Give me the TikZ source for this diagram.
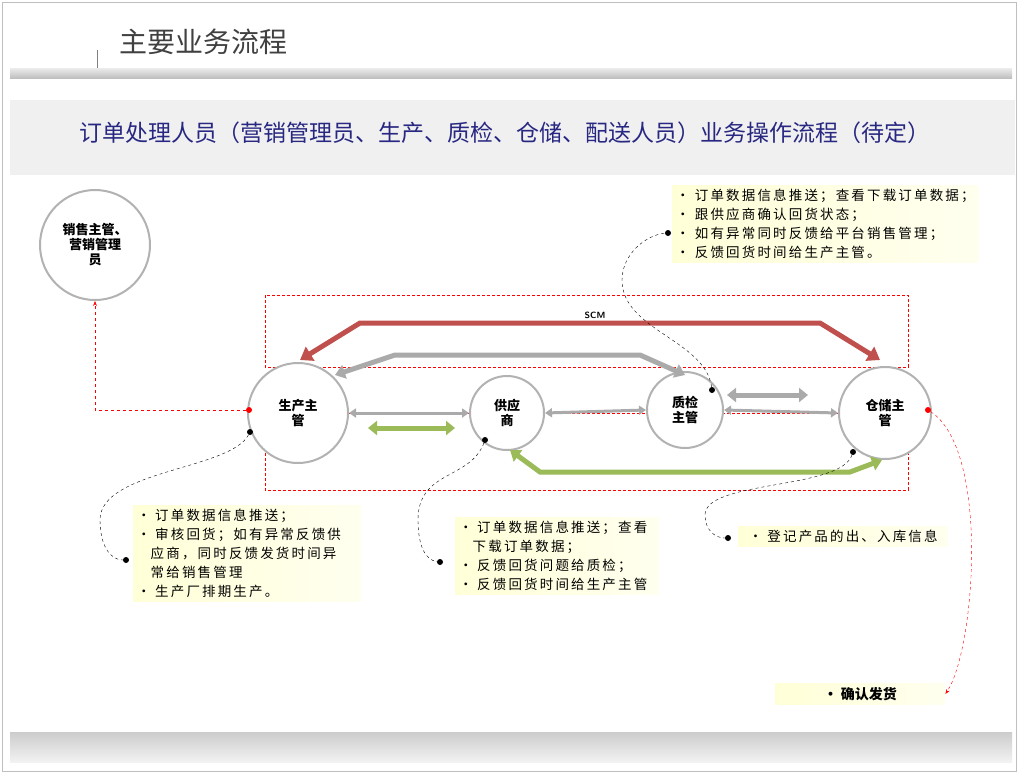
\documentclass[tikz,border=0pt]{standalone}
\usepackage{fontspec}
\newfontfamily\cjk{Noto Sans CJK SC}
\newfontfamily\cjkn[LetterSpace=16]{Noto Sans CJK SC}
\usetikzlibrary{arrows.meta}
\definecolor{rd}{RGB}{192,80,77}
\definecolor{gr}{RGB}{170,170,170}
\definecolor{gn}{RGB}{155,187,89}
\definecolor{ttl}{RGB}{40,40,130}
\definecolor{yl}{RGB}{255,255,215}
\tikzset{
 circ/.style={circle,draw=gray!60,line width=2pt,fill=white,align=center,font=\cjk\fontsize{13}{15}\selectfont\bfseries,inner sep=0pt},
 rbox/.style={draw=red,dashed,line width=0.8pt,dash pattern=on 3pt off 2pt},
 note/.style={left color=yl,right color=yl!40,anchor=north west,align=left,font=\cjkn\fontsize{13.5}{19}\selectfont,inner sep=4pt},
 dot/.style={circle,fill=black,inner sep=0pt,minimum size=6pt},
 rdot/.style={circle,fill=red,inner sep=0pt,minimum size=6pt},
 thn/.style={line width=3pt,gr,{Triangle[length=7pt,width=9pt]}-{Triangle[length=7pt,width=9pt]}},
 lk/.style={black,dashed,thin},
}
\begin{document}
\begin{tikzpicture}[x=1pt,y=-1pt]
\useasboundingbox (0,0) rectangle (1019,774);
\fill[white] (0,0) rectangle (1019,774);
\draw[gray!50] (2,2) rectangle (1016,771);
\fill[top color=gray!15,bottom color=gray!50] (10,68) rectangle (1012,78);
\fill[top color=gray!40,bottom color=gray!10] (10,732) rectangle (1012,762);
\draw[gray] (97,50) -- (97,68);
\node[font=\cjk\fontsize{28}{30}\selectfont,text=black!75,anchor=west] (h) at (116,42) {主要业务流程};
\fill[gray!12] (10,100) rectangle (1015,175);
\node[font=\cjk\fontsize{23}{26}\selectfont,text=ttl] (t) at (505,133) {订单处理人员（营销管理员、生产、质检、仓储、配送人员）业务操作流程（待定）};
\draw[rbox] (265,295) rectangle (908,367);
\draw[rbox] (265,413) rectangle (908,490);
\node[circ,minimum size=110pt] (xs) at (95,245) {销售主管、\\营销管理\\员};
\node[circ,minimum size=100pt] (sc) at (298,413) {生产主\\管};
\node[circ,minimum size=74pt] (gy) at (507,413) {供应\\商};
\node[circ,minimum size=76pt] (zj) at (685,410) {质检\\主管};
\node[circ,minimum size=92pt] (cc) at (885,413) {仓储主\\管};
% SCM
\draw[rd,line width=5pt,{Triangle[length=12pt,width=16pt]}-{Triangle[length=12pt,width=16pt]}] (300,360) -- (360,323) -- (820,323) -- (880,360);
\node[font=\sffamily\bfseries\small] (scm) at (595,315) {SCM};
\draw[gr,line width=5pt,{Triangle[length=10pt,width=14pt]}-{Triangle[length=10pt,width=14pt]}] (335,375) -- (395,355) -- (640,355) -- (685,375);
\draw[thn] (sc.east) -- (gy.west);
\draw[thn] (gy.east) -- (zj.west);
\draw[thn] (zj.east) -- (cc.west);
\draw[gr,line width=5pt,{Triangle[length=9pt,width=14pt]}-{Triangle[length=9pt,width=14pt]}] (727,395) -- (808,395);
\draw[gn,line width=5pt,{Triangle[length=9pt,width=14pt]}-{Triangle[length=9pt,width=14pt]}] (368,428) -- (455,428);
\draw[gn,line width=5pt,{Triangle[length=10pt,width=14pt]}-{Triangle[length=10pt,width=14pt]}] (510,450) -- (540,472) -- (850,472) -- (882,460);
% red links
\node[rdot] (r1) at (249,410) {};
\node[rdot] (r2) at (928,410) {};
\draw[red,dashed,-{Stealth}] (r1) -- (95,410) -- (xs.south);
% notes
\node[note] (n1) at (672,185) {• 订单数据信息推送；查看下载订单数据；\\• 跟供应商确认回货状态；\\• 如有异常同时反馈给平台销售管理；\\• 反馈回货时间给生产主管。};
\node[note,text width=220pt] (n2) at (133,505) {• 订单数据信息推送；\\• 审核回货；如有异常反馈供\\\ \ \ 应商，同时反馈发货时间异\\\ \ \ 常给销售管理\\• 生产厂排期生产。};
\node[note,text width=196pt] (n3) at (455,517) {• 订单数据信息推送；查看\\\ \ \ 下载订单数据；\\• 反馈回货问题给质检；\\• 反馈回货时间给生产主管};
\node[note,minimum width=210pt] (n4) at (738,526) {• 登记产品的出、入库信息};
\node[note,font=\cjk\fontsize{14}{18}\selectfont\bfseries,minimum width=170pt] (n5) at (775,683) {• 确认发货};
\draw[red,dashed,-{Stealth}] (r2) .. controls (990,450) and (975,650) .. (n5.east);
% black links
\node[dot] (d1) at (250,432) {};
\node[dot] (e1) at (126,560) {};
\draw[lk] (d1) .. controls (230,470) and (100,470) .. (100,520) .. controls (100,545) and (110,560) .. (e1);
\node[dot] (d2) at (485,440) {};
\node[dot] (e2) at (440,562) {};
\draw[lk] (d2) .. controls (470,480) and (418,470) .. (418,520) .. controls (418,545) and (425,560) .. (e2);
\node[dot] (d3) at (712,390) {};
\node[dot] (e3) at (668,233) {};
\draw[lk] (d3) .. controls (705,340) and (622,330) .. (622,280) .. controls (622,255) and (645,235) .. (e3);
\node[dot] (d4) at (853,452) {};
\node[dot] (e4) at (728,538) {};
\draw[lk] (d4) .. controls (840,490) and (705,480) .. (705,515) .. controls (705,530) and (715,538) .. (e4);
\end{tikzpicture}
\end{document}
